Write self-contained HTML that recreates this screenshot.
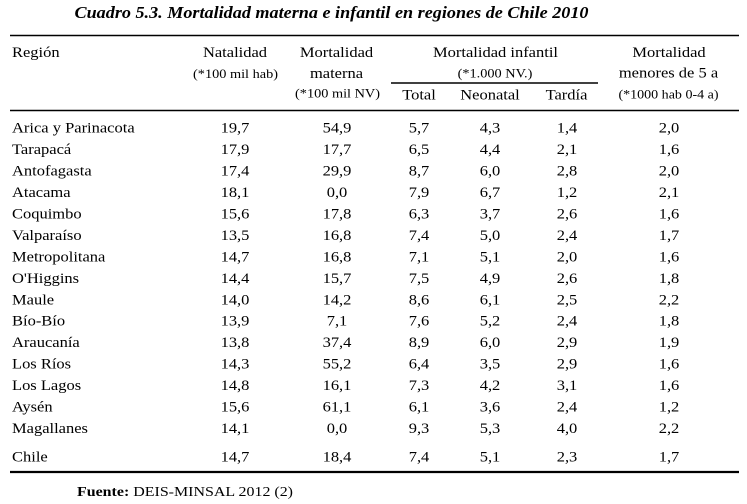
<!DOCTYPE html>
<html>
<head>
<meta charset="utf-8">
<style>
html,body{margin:0;padding:0;background:#fff;}
svg{display:block;}
text{font-family:"Liberation Serif","DejaVu Serif",serif;fill:#000;}
.r{font-size:15px;}
.s{font-size:13px;}
.c{text-anchor:middle;}
</style>
</head>
<body>
<svg width="747" height="504" viewBox="0 0 747 504" xmlns="http://www.w3.org/2000/svg">
<rect width="747" height="504" fill="#fff"/>
<!-- title -->
<text x="74.5" y="18" style="font-size:17px;font-weight:bold;font-style:italic" textLength="514" lengthAdjust="spacingAndGlyphs">Cuadro 5.3. Mortalidad materna e infantil en regiones de Chile 2010</text>

<!-- rules -->
<line x1="10" y1="35.5" x2="739" y2="35.5" stroke="#000" stroke-width="1.6"/>
<line x1="391" y1="83" x2="598" y2="83" stroke="#000" stroke-width="1.6"/>
<line x1="10" y1="110.5" x2="739" y2="110.5" stroke="#000" stroke-width="1.6"/>
<line x1="10" y1="472" x2="739" y2="472" stroke="#000" stroke-width="2.2"/>

<!-- header -->
<g class="r">
<text transform="translate(12 57) scale(1.1 1)">Región</text>
<text class="c" transform="translate(235 57) scale(1.1 1)">Natalidad</text>
<text class="c" transform="translate(336.5 57) scale(1.1 1)">Mortalidad</text>
<text class="c" transform="translate(336.5 78) scale(1.1 1)">materna</text>
<text class="c" transform="translate(495.5 57) scale(1.1 1)">Mortalidad infantil</text>
<text class="c" transform="translate(669 57) scale(1.1 1)">Mortalidad</text>
<text class="c" transform="translate(668.5 77.5) scale(1.1 1)">menores de 5 a</text>
<text class="c" transform="translate(419 99.3) scale(1.1 1)">Total</text>
<text class="c" transform="translate(490 99.3) scale(1.1 1)">Neonatal</text>
<text class="c" transform="translate(566.5 99.3) scale(1.1 1)">Tardía</text>
</g>
<g class="s">
<text class="c" transform="translate(235.5 78) scale(1.1 1)">(*100 mil hab)</text>
<text class="c" transform="translate(337.5 97.5) scale(1.1 1)">(*100 mil NV)</text>
<text class="c" transform="translate(495 77.3) scale(1.1 1)">(*1.000 NV.)</text>
<text class="c" transform="translate(668.5 98.5) scale(1.08 1)">(*1000 hab 0-4 a)</text>
</g>

<!-- rows -->
<g class="r">
<text transform="translate(12 132.7) scale(1.1 1)">Arica y Parinacota</text>
<text transform="translate(12 154.1) scale(1.1 1)">Tarapacá</text>
<text transform="translate(12 175.6) scale(1.1 1)">Antofagasta</text>
<text transform="translate(12 197.0) scale(1.1 1)">Atacama</text>
<text transform="translate(12 218.5) scale(1.1 1)">Coquimbo</text>
<text transform="translate(12 239.9) scale(1.1 1)">Valparaíso</text>
<text transform="translate(12 261.4) scale(1.1 1)">Metropolitana</text>
<text transform="translate(12 282.8) scale(1.1 1)">O'Higgins</text>
<text transform="translate(12 304.3) scale(1.1 1)">Maule</text>
<text transform="translate(12 325.7) scale(1.1 1)">Bío-Bío</text>
<text transform="translate(12 347.2) scale(1.1 1)">Araucanía</text>
<text transform="translate(12 368.6) scale(1.1 1)">Los Ríos</text>
<text transform="translate(12 390.1) scale(1.1 1)">Los Lagos</text>
<text transform="translate(12 411.6) scale(1.1 1)">Aysén</text>
<text transform="translate(12 433.0) scale(1.1 1)">Magallanes</text>
<text transform="translate(12 461.7) scale(1.1 1)">Chile</text>
</g>

<g class="r c">
<!-- Natalidad -->
<text class="c" transform="translate(235 132.7) scale(1.1 1)">19,7</text>
<text class="c" transform="translate(235 154.1) scale(1.1 1)">17,9</text>
<text class="c" transform="translate(235 175.6) scale(1.1 1)">17,4</text>
<text class="c" transform="translate(235 197.0) scale(1.1 1)">18,1</text>
<text class="c" transform="translate(235 218.5) scale(1.1 1)">15,6</text>
<text class="c" transform="translate(235 239.9) scale(1.1 1)">13,5</text>
<text class="c" transform="translate(235 261.4) scale(1.1 1)">14,7</text>
<text class="c" transform="translate(235 282.8) scale(1.1 1)">14,4</text>
<text class="c" transform="translate(235 304.3) scale(1.1 1)">14,0</text>
<text class="c" transform="translate(235 325.7) scale(1.1 1)">13,9</text>
<text class="c" transform="translate(235 347.2) scale(1.1 1)">13,8</text>
<text class="c" transform="translate(235 368.6) scale(1.1 1)">14,3</text>
<text class="c" transform="translate(235 390.1) scale(1.1 1)">14,8</text>
<text class="c" transform="translate(235 411.6) scale(1.1 1)">15,6</text>
<text class="c" transform="translate(235 433.0) scale(1.1 1)">14,1</text>
<text class="c" transform="translate(235 461.7) scale(1.1 1)">14,7</text>
<!-- Materna -->
<text class="c" transform="translate(337 132.7) scale(1.1 1)">54,9</text>
<text class="c" transform="translate(337 154.1) scale(1.1 1)">17,7</text>
<text class="c" transform="translate(337 175.6) scale(1.1 1)">29,9</text>
<text class="c" transform="translate(337 197.0) scale(1.1 1)">0,0</text>
<text class="c" transform="translate(337 218.5) scale(1.1 1)">17,8</text>
<text class="c" transform="translate(337 239.9) scale(1.1 1)">16,8</text>
<text class="c" transform="translate(337 261.4) scale(1.1 1)">16,8</text>
<text class="c" transform="translate(337 282.8) scale(1.1 1)">15,7</text>
<text class="c" transform="translate(337 304.3) scale(1.1 1)">14,2</text>
<text class="c" transform="translate(337 325.7) scale(1.1 1)">7,1</text>
<text class="c" transform="translate(337 347.2) scale(1.1 1)">37,4</text>
<text class="c" transform="translate(337 368.6) scale(1.1 1)">55,2</text>
<text class="c" transform="translate(337 390.1) scale(1.1 1)">16,1</text>
<text class="c" transform="translate(337 411.6) scale(1.1 1)">61,1</text>
<text class="c" transform="translate(337 433.0) scale(1.1 1)">0,0</text>
<text class="c" transform="translate(337 461.7) scale(1.1 1)">18,4</text>
<!-- Total -->
<text class="c" transform="translate(419 132.7) scale(1.1 1)">5,7</text>
<text class="c" transform="translate(419 154.1) scale(1.1 1)">6,5</text>
<text class="c" transform="translate(419 175.6) scale(1.1 1)">8,7</text>
<text class="c" transform="translate(419 197.0) scale(1.1 1)">7,9</text>
<text class="c" transform="translate(419 218.5) scale(1.1 1)">6,3</text>
<text class="c" transform="translate(419 239.9) scale(1.1 1)">7,4</text>
<text class="c" transform="translate(419 261.4) scale(1.1 1)">7,1</text>
<text class="c" transform="translate(419 282.8) scale(1.1 1)">7,5</text>
<text class="c" transform="translate(419 304.3) scale(1.1 1)">8,6</text>
<text class="c" transform="translate(419 325.7) scale(1.1 1)">7,6</text>
<text class="c" transform="translate(419 347.2) scale(1.1 1)">8,9</text>
<text class="c" transform="translate(419 368.6) scale(1.1 1)">6,4</text>
<text class="c" transform="translate(419 390.1) scale(1.1 1)">7,3</text>
<text class="c" transform="translate(419 411.6) scale(1.1 1)">6,1</text>
<text class="c" transform="translate(419 433.0) scale(1.1 1)">9,3</text>
<text class="c" transform="translate(419 461.7) scale(1.1 1)">7,4</text>
<!-- Neonatal -->
<text class="c" transform="translate(490 132.7) scale(1.1 1)">4,3</text>
<text class="c" transform="translate(490 154.1) scale(1.1 1)">4,4</text>
<text class="c" transform="translate(490 175.6) scale(1.1 1)">6,0</text>
<text class="c" transform="translate(490 197.0) scale(1.1 1)">6,7</text>
<text class="c" transform="translate(490 218.5) scale(1.1 1)">3,7</text>
<text class="c" transform="translate(490 239.9) scale(1.1 1)">5,0</text>
<text class="c" transform="translate(490 261.4) scale(1.1 1)">5,1</text>
<text class="c" transform="translate(490 282.8) scale(1.1 1)">4,9</text>
<text class="c" transform="translate(490 304.3) scale(1.1 1)">6,1</text>
<text class="c" transform="translate(490 325.7) scale(1.1 1)">5,2</text>
<text class="c" transform="translate(490 347.2) scale(1.1 1)">6,0</text>
<text class="c" transform="translate(490 368.6) scale(1.1 1)">3,5</text>
<text class="c" transform="translate(490 390.1) scale(1.1 1)">4,2</text>
<text class="c" transform="translate(490 411.6) scale(1.1 1)">3,6</text>
<text class="c" transform="translate(490 433.0) scale(1.1 1)">5,3</text>
<text class="c" transform="translate(490 461.7) scale(1.1 1)">5,1</text>
<!-- Tardía -->
<text class="c" transform="translate(567 132.7) scale(1.1 1)">1,4</text>
<text class="c" transform="translate(567 154.1) scale(1.1 1)">2,1</text>
<text class="c" transform="translate(567 175.6) scale(1.1 1)">2,8</text>
<text class="c" transform="translate(567 197.0) scale(1.1 1)">1,2</text>
<text class="c" transform="translate(567 218.5) scale(1.1 1)">2,6</text>
<text class="c" transform="translate(567 239.9) scale(1.1 1)">2,4</text>
<text class="c" transform="translate(567 261.4) scale(1.1 1)">2,0</text>
<text class="c" transform="translate(567 282.8) scale(1.1 1)">2,6</text>
<text class="c" transform="translate(567 304.3) scale(1.1 1)">2,5</text>
<text class="c" transform="translate(567 325.7) scale(1.1 1)">2,4</text>
<text class="c" transform="translate(567 347.2) scale(1.1 1)">2,9</text>
<text class="c" transform="translate(567 368.6) scale(1.1 1)">2,9</text>
<text class="c" transform="translate(567 390.1) scale(1.1 1)">3,1</text>
<text class="c" transform="translate(567 411.6) scale(1.1 1)">2,4</text>
<text class="c" transform="translate(567 433.0) scale(1.1 1)">4,0</text>
<text class="c" transform="translate(567 461.7) scale(1.1 1)">2,3</text>
<!-- Menores de 5 -->
<text class="c" transform="translate(669 132.7) scale(1.1 1)">2,0</text>
<text class="c" transform="translate(669 154.1) scale(1.1 1)">1,6</text>
<text class="c" transform="translate(669 175.6) scale(1.1 1)">2,0</text>
<text class="c" transform="translate(669 197.0) scale(1.1 1)">2,1</text>
<text class="c" transform="translate(669 218.5) scale(1.1 1)">1,6</text>
<text class="c" transform="translate(669 239.9) scale(1.1 1)">1,7</text>
<text class="c" transform="translate(669 261.4) scale(1.1 1)">1,6</text>
<text class="c" transform="translate(669 282.8) scale(1.1 1)">1,8</text>
<text class="c" transform="translate(669 304.3) scale(1.1 1)">2,2</text>
<text class="c" transform="translate(669 325.7) scale(1.1 1)">1,8</text>
<text class="c" transform="translate(669 347.2) scale(1.1 1)">1,9</text>
<text class="c" transform="translate(669 368.6) scale(1.1 1)">1,6</text>
<text class="c" transform="translate(669 390.1) scale(1.1 1)">1,6</text>
<text class="c" transform="translate(669 411.6) scale(1.1 1)">1,2</text>
<text class="c" transform="translate(669 433.0) scale(1.1 1)">2,2</text>
<text class="c" transform="translate(669 461.7) scale(1.1 1)">1,7</text>
</g>

<!-- source -->
<text x="77" y="496" style="font-size:14px" textLength="216" lengthAdjust="spacingAndGlyphs"><tspan style="font-weight:bold">Fuente:</tspan> DEIS-MINSAL 2012 (2)</text>
</svg>
</body>
</html>
